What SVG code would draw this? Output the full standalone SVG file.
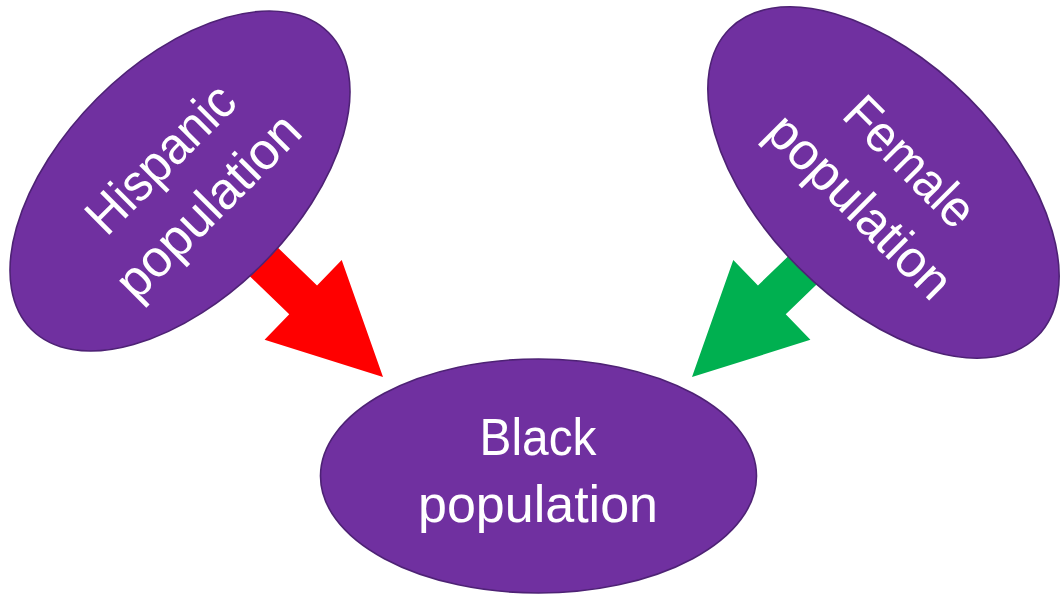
<svg xmlns="http://www.w3.org/2000/svg" width="1060" height="597" viewBox="0 0 1060 597">
  <style>
    .node { fill: #7030A0; stroke: #4E2275; stroke-width: 1.6; }
    .label { fill: #FFFFFF; font-family: "Liberation Sans", Arial, sans-serif; font-size: 52px; text-anchor: middle; }
  </style>
  <defs>
    <!-- block arrow, tip at origin, pointing along +x -->
    <polygon id="blockArrow" points="0,0 -111,-55.5 -111,-20 -200,-20 -200,20 -111,20 -111,55.5"/>
  </defs>
  <rect width="1060" height="597" fill="#FFFFFF"/>

  <g id="connectors">
    <use href="#blockArrow" fill="#FF0000" transform="translate(383 377) rotate(44)"/>
    <use href="#blockArrow" fill="#00B050" transform="translate(692 377) rotate(136)"/>
  </g>

  <g id="hispanic">
    <ellipse class="node" cx="180" cy="181" rx="210" ry="117" transform="rotate(-45 180 181)"/>
    <g transform="translate(180 181) rotate(-45)">
      <text class="label" x="2" y="-12" textLength="188" lengthAdjust="spacingAndGlyphs">Hispanic</text>
      <text class="label" x="2" y="55" textLength="238" lengthAdjust="spacingAndGlyphs">population</text>
    </g>
  </g>

  <g id="female">
    <ellipse class="node" cx="883.5" cy="182.5" rx="217.5" ry="120" transform="rotate(45 883.5 182.5)"/>
    <g transform="translate(883.5 182.5) rotate(45)">
      <text class="label" x="4" y="-16" textLength="162" lengthAdjust="spacingAndGlyphs">Female</text>
      <text class="label" x="0" y="51" textLength="238" lengthAdjust="spacingAndGlyphs">population</text>
    </g>
  </g>

  <g id="black">
    <ellipse class="node" cx="538.5" cy="476" rx="218" ry="117"/>
    <text class="label" x="538" y="455" textLength="117" lengthAdjust="spacingAndGlyphs">Black</text>
    <text class="label" x="538" y="522" textLength="240" lengthAdjust="spacingAndGlyphs">population</text>
  </g>
</svg>
